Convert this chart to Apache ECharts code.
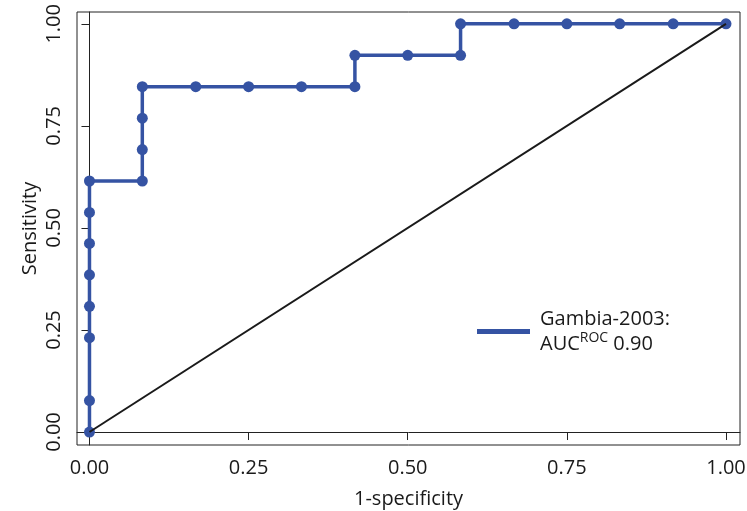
<!DOCTYPE html>
<html>
<head>
<meta charset="utf-8">
<script src="https://cdn.jsdelivr.net/npm/echarts@6/dist/echarts.min.js"></script>
<style>
  html, body { margin: 0; padding: 0; background: #fff; }
  #chart { width: 747px; height: 511px; }
</style>
</head>
<body>
<div id="chart"></div>
<script>
// ROC curve points
var fpr = [0, 0, 0, 0, 0, 0, 0, 0,
  0.083, 0.083, 0.083, 0.083,
  0.167, 0.25, 0.333, 0.417,
  0.417, 0.5, 0.583,
  0.583, 0.667, 0.75, 0.833, 0.917, 1];
var tpr = [0, 0.077, 0.231, 0.308, 0.385, 0.462, 0.538, 0.615,
  0.615, 0.692, 0.769, 0.846,
  0.846, 0.846, 0.846, 0.846,
  0.923, 0.923, 0.923,
  1, 1, 1, 1, 1, 1];
var diagX = [0, 1];
var diagY = [0, 1];
var tickVals = [0, 0.25, 0.5, 0.75, 1];

var font = 'Open Sans';
var txt = '#1a1a1a';

var dom = document.getElementById('chart'),
  myChart = echarts.init(dom),
  option = {
    animation: false,
    textStyle: { fontFamily: font },
    grid: {
      left: 77, right: 7, top: 12, bottom: 66,
      show: true,
      borderColor: '#222',
      borderWidth: 1,
      containLabel: false,
      outerBoundsMode: 'none'
    },
    legend: {
      left: 477,
      top: 309,
      padding: 0,
      icon: 'rect',
      itemWidth: 53,
      itemHeight: 5,
      itemGap: 0,
      data: ['Gambia-2003'],
      formatter: function () {
        return '{a|Gambia-2003:}\n{a|AUC}{s|ROC}{a| 0.90}';
      },
      textStyle: {
        padding: [0, 0, 0, 5],
        rich: {
          a: { fontFamily: font, fontSize: 20, color: txt, lineHeight: 25 },
          s: { fontFamily: font, fontSize: 14, color: txt, lineHeight: 25, verticalAlign: 'top', padding: [0, 0, 9, 0] }
        }
      }
    },
    xAxis: {
      type: 'value',
      min: -0.0196,
      max: 1.022,
      name: '1-specificity',
      nameLocation: 'middle',
      nameGap: 44,
      nameMoveOverlap: false,
      nameTextStyle: { fontFamily: font, fontSize: 20, color: txt },
      axisLine: { show: true, lineStyle: { color: '#222', width: 1 } },
      axisTick: { show: true, inside: false, length: 8, customValues: tickVals, lineStyle: { color: '#222' } },
      axisLabel: {
        customValues: tickVals,
        margin: 13,
        fontFamily: font, fontSize: 20, color: txt,
        formatter: function (v) { return v.toFixed(2); }
      },
      splitLine: { show: false }
    },
    yAxis: {
      type: 'value',
      min: -0.0318,
      max: 1.029,
      name: 'Sensitivity',
      nameLocation: 'middle',
      nameGap: 37,
      nameMoveOverlap: false,
      nameTextStyle: { fontFamily: font, fontSize: 20, color: txt },
      axisLine: { show: true, lineStyle: { color: '#222', width: 1 } },
      axisTick: { show: true, inside: false, length: 8, customValues: tickVals, lineStyle: { color: '#222' } },
      axisLabel: {
        customValues: tickVals,
        rotate: 90,
        margin: 13,
        fontFamily: font, fontSize: 20, color: txt,
        formatter: function (v) { return v.toFixed(2); }
      },
      splitLine: { show: false }
    },
    series: [{
      name: 'diag',
      type: 'line',
      data: diagX.map(function (x, i) { return [x, diagY[i]]; }),
      symbol: 'none',
      lineStyle: { color: '#1a1a1a', width: 2 },
      silent: true,
      z: 3
    }, {
      name: 'Gambia-2003',
      type: 'line',
      data: fpr.map(function (x, i) { return [x, tpr[i]]; }),
      symbol: 'circle',
      symbolSize: 11,
      color: '#3553a3',
      itemStyle: { color: '#3553a3' },
      lineStyle: { color: '#3553a3', width: 3.5 },
      z: 2
    }]
  };
myChart.setOption(option, true);
</script>
</body>
</html>
